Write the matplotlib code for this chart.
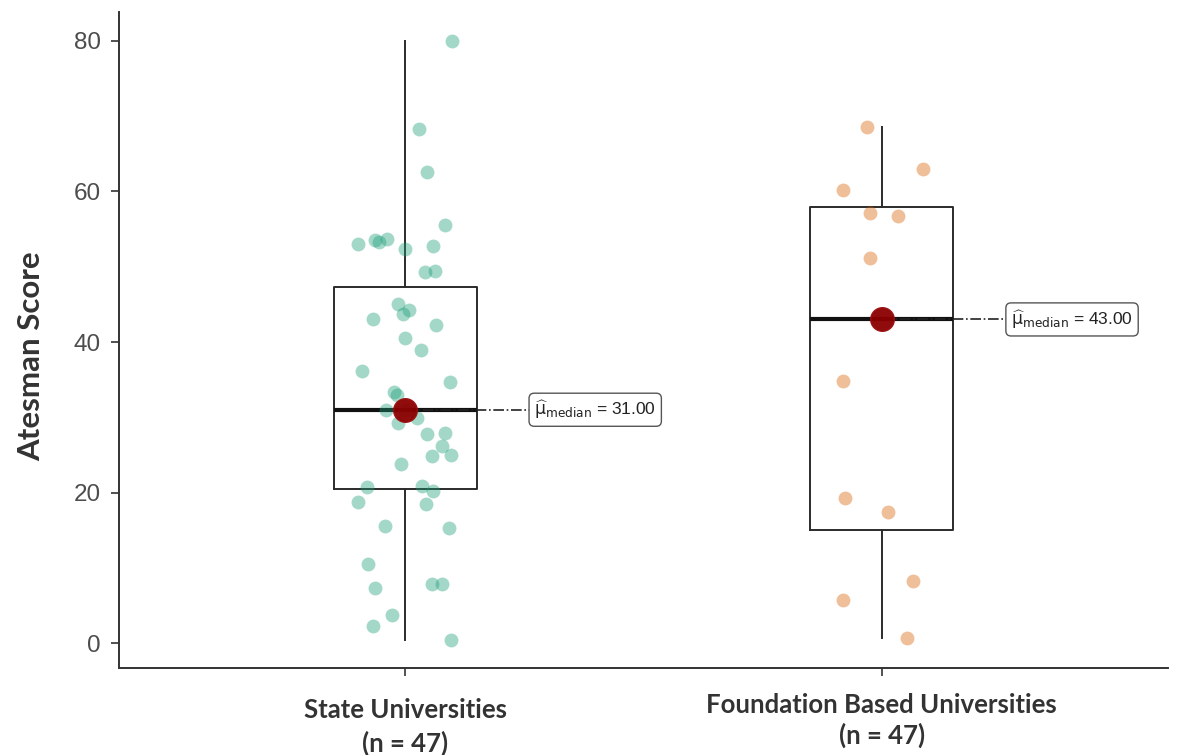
import matplotlib
matplotlib.use('Agg')
import matplotlib.pyplot as plt
import matplotlib.transforms as mtransforms
import numpy as np

groups = ['State Universities', 'Foundation Based Universities']
n_labels = ['(n = 47)', '(n = 47)']

# scores, with the horizontal jitter of each point (category units)
state_scores = [80.0, 68.3, 62.6, 55.5, 53.0, 53.6, 53.3, 53.7, 52.4, 52.7, 49.3, 49.5,
                45.1, 44.3, 43.7, 43.1, 42.3, 40.5, 38.9, 36.2, 34.7, 33.3, 33.0, 31.0,
                30.9, 29.9, 29.2, 27.8, 27.9, 26.2, 24.9, 25.0, 23.8, 20.7, 20.9, 20.2,
                18.7, 18.5, 15.6, 15.3, 10.5, 7.3, 7.9, 7.9, 3.7, 2.3, 0.4]
state_jitter = [0.098, 0.029, 0.046, 0.083, -0.099, -0.063, -0.055, -0.038, -0.001, 0.059, 0.042, 0.062,
                -0.015, 0.009, -0.005, -0.067, 0.064, 0.0, 0.033, -0.090, 0.095, -0.023, -0.016, 0.0,
                -0.040, 0.025, -0.015, 0.047, 0.083, 0.078, 0.056, 0.096, -0.008, -0.080, 0.035, 0.058,
                -0.099, 0.043, -0.043, 0.092, -0.077, -0.063, 0.056, 0.078, -0.027, -0.067, 0.096]
foundation_scores = [68.6, 63.0, 60.2, 57.1, 56.8, 51.2, 34.8, 19.3, 17.4, 8.2, 5.7, 0.7]
foundation_jitter = [-0.032, 0.086, -0.082, -0.025, 0.034, -0.025, -0.082, -0.078, 0.013, 0.065, -0.082, 0.053]

# box summaries as drawn
box_q1 = [20.5, 15.0]
box_med = [31.0, 43.0]
box_q3 = [47.3, 57.9]
whisker_lo = [0.4, 0.7]
whisker_hi = [80.0, 68.6]

point_colors = ['#1b9e77', '#d95f02']

fig = plt.figure(figsize=(11.93, 7.55), dpi=100, facecolor='white')
ax = fig.add_axes([0.0997, 0.1152, 0.8793, 0.8689])

pos = [1, 2]
stats = []
for i in range(2):
    stats.append(dict(med=box_med[i], q1=box_q1[i], q3=box_q3[i],
                      whislo=whisker_lo[i], whishi=whisker_hi[i], fliers=[]))
ax.bxp(stats, positions=pos, widths=0.3, showfliers=False, showcaps=False,
       boxprops=dict(color='#2b2b2b', lw=1.4),
       whiskerprops=dict(color='#2b2b2b', lw=1.4),
       medianprops=dict(color='#111111', lw=3), zorder=2)

all_scores = [state_scores, foundation_scores]
all_jitter = [state_jitter, foundation_jitter]
for i in range(2):
    x = pos[i] + np.array(all_jitter[i])
    ax.scatter(x, all_scores[i], s=100, color=point_colors[i], alpha=0.4,
               linewidths=0, zorder=3)

# median markers and labels
for i in range(2):
    ax.plot([pos[i], pos[i] + 0.262], [box_med[i], box_med[i]], ls='-.', color='#222222',
            lw=1.2, zorder=2.5)
    ax.plot(pos[i], box_med[i], 'o', ms=17, color='#8b0000', mec='#9a1010', alpha=0.95, zorder=4)
    ax.text(pos[i] + 0.271, box_med[i],
            r'$\widehat{\mathrm{\mu}}_{\mathrm{median}}$' + ' = %.2f' % box_med[i],
            fontsize=12.5, family='Liberation Sans', color='#222222', ha='left', va='center',
            bbox=dict(boxstyle='round,pad=0.3', fc='white', ec='#555555', lw=1.0), zorder=5)

ax.set_xlim(0.4, 2.6)
ax.set_ylim(-3.32, 83.85)
ax.set_yticks([0, 20, 40, 60, 80])
ax.set_xticks(pos)
ax.set_xticklabels(['', ''])
ax.tick_params(axis='y', labelsize=17.5, labelcolor='#4d4d4d', color='#333333', length=6, width=1.2, pad=7)
ax.tick_params(axis='x', color='#333333', length=6, width=1.2)
for lab in ax.get_yticklabels():
    lab.set_family('Liberation Sans')
for s in ['top', 'right']:
    ax.spines[s].set_visible(False)
for s in ['left', 'bottom']:
    ax.spines[s].set_color('#333333')
    ax.spines[s].set_linewidth(1.4)

# category labels (the second one sits a little higher in the original)
trans = mtransforms.blended_transform_factory(ax.transData, fig.transFigure)
line1_y = [0.0600, 0.0662]
line2_y = [0.0159, 0.0265]
for i in range(2):
    ax.text(pos[i], line1_y[i], groups[i], transform=trans, ha='center', va='center',
            fontsize=18.5, family='Lato', weight='bold', color='#333333')
    ax.text(pos[i], line2_y[i], n_labels[i], transform=trans, ha='center', va='center',
            fontsize=18.5, family='Lato', weight='bold', color='#333333')

fig.text(0.026, 1 - 356 / 755, 'Atesman Score', rotation=90, ha='center', va='center',
         fontsize=22.5, family='Lato', weight='bold', color='#333333')

fig.savefig('out.png', dpi=100, facecolor='white')
